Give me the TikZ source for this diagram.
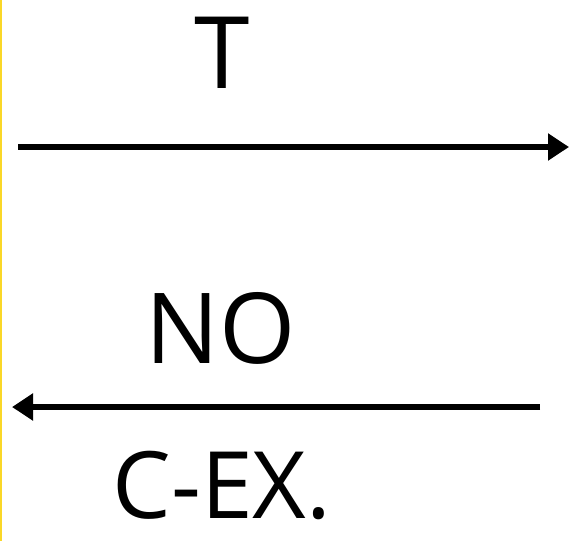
\documentclass[tikz,border=0pt]{standalone}
\usepackage{fontspec}
\setmainfont{Open Sans}
\usetikzlibrary{arrows.meta}
\definecolor{edgeyellow}{RGB}{250,215,40}
\tikzset{
  conn/.style={line width=5.5pt, -{Triangle[length=21pt,width=26pt]}},
  hand/.style={anchor=base, inner sep=0pt, font=\fontsize{100}{100}\selectfont},
  plain/.style={anchor=base, inner sep=0pt, font=\fontsize{98}{98}\selectfont},
}
\begin{document}
\begin{tikzpicture}[x=1pt,y=-1pt]
\useasboundingbox[fill=white] (0,0) rectangle (569,541);
\fill[edgeyellow] (0,0) rectangle (2,541);
\node[hand] (t) at (222,88) {T};
\coordinate (a1) at (18,147);
\coordinate (a2) at (569,147);
\draw[conn] (a1) -- (a2);
\node[plain] (no) at (221,363) {NO};
\coordinate (b1) at (540,407);
\coordinate (b2) at (12,407);
\draw[conn] (b1) -- (b2);
\node[hand, font=\fontsize{93}{93}\selectfont] (cex) at (222,518) {C-EX.};
\end{tikzpicture}
\end{document}
